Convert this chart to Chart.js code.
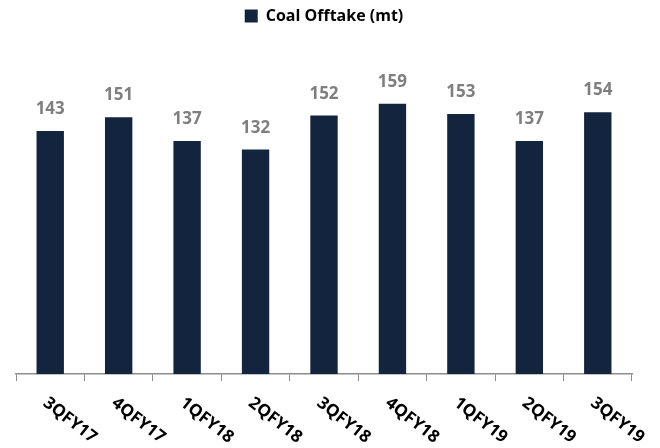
<!DOCTYPE html>
<html>
<head>
<meta charset="utf-8">
<script src="https://cdn.jsdelivr.net/npm/chart.js@4.4.1/dist/chart.umd.min.js"></script>
<style>
  html, body { margin: 0; padding: 0; background: #fff; }
  #wrap { width: 660px; height: 448px; }
</style>
</head>
<body>
<div id="wrap"><canvas id="myChart" width="660" height="448"></canvas></div>
<script>
const quarters = ["3QFY17", "4QFY17", "1QFY18", "2QFY18", "3QFY18", "4QFY18", "1QFY19", "2QFY19", "3QFY19"];
const offtake = [143, 151, 137, 132, 152, 159, 153, 137, 154];
const seriesName = "Coal Offtake (mt)";

const navy = "#13243f";
const labelFont = "'Open Sans', 'Liberation Sans', sans-serif";

// value labels above each bar
const valueLabels = {
  id: "valueLabels",
  afterDatasetsDraw(chart) {
    const ctx = chart.ctx;
    const meta = chart.getDatasetMeta(0);
    ctx.save();
    ctx.font = "bold 17px " + labelFont;
    ctx.fillStyle = "#7f7f7f";
    ctx.textAlign = "center";
    ctx.textBaseline = "alphabetic";
    meta.data.forEach((bar, i) => {
      ctx.fillText(offtake[i], bar.x, bar.y - 17);
    });
    ctx.restore();
  },
};

// slanted category labels under the axis
const slantedTicks = {
  id: "slantedTicks",
  afterDraw(chart) {
    const ctx = chart.ctx;
    const x = chart.scales.x;
    ctx.save();
    ctx.font = "bold 17px " + labelFont;
    ctx.fillStyle = "#000";
    ctx.textAlign = "left";
    ctx.textBaseline = "middle";
    quarters.forEach((q, i) => {
      const px = x.getPixelForValue(i);
      ctx.save();
      ctx.translate(px - 5, x.bottom + 20);
      ctx.rotate((38 * Math.PI) / 180);
      ctx.fillText(q, 0, 0);
      ctx.restore();
    });
    ctx.restore();
  },
};

new Chart(document.getElementById("myChart"), {
  type: "bar",
  data: {
    labels: quarters,
    datasets: [
      {
        label: seriesName,
        data: offtake,
        backgroundColor: navy,
        borderWidth: 0,
        barPercentage: 0.4,
        categoryPercentage: 1,
      },
    ],
  },
  options: {
    responsive: false,
    animation: false,
    layout: { padding: { left: 16, right: 28, top: 2, bottom: 67 } },
    scales: {
      y: {
        display: false,
        min: 0,
        max: 200,
      },
      x: {
        offset: true,
        grid: {
          offset: true,
          drawOnChartArea: false,
          drawTicks: true,
          tickLength: 7,
          color: "#8c8c8c",
        },
        border: { color: "#8c8c8c", width: 1.5 },
        ticks: { display: false },
      },
    },
    plugins: {
      legend: {
        display: true,
        position: "top",
        labels: {
          boxWidth: 13,
          boxHeight: 13,
          color: "#000",
          font: { family: labelFont, weight: "bold", size: 16 },
          padding: 6,
        },
      },
      tooltip: { enabled: false },
    },
  },
  plugins: [valueLabels, slantedTicks],
});
</script>
</body>
</html>
